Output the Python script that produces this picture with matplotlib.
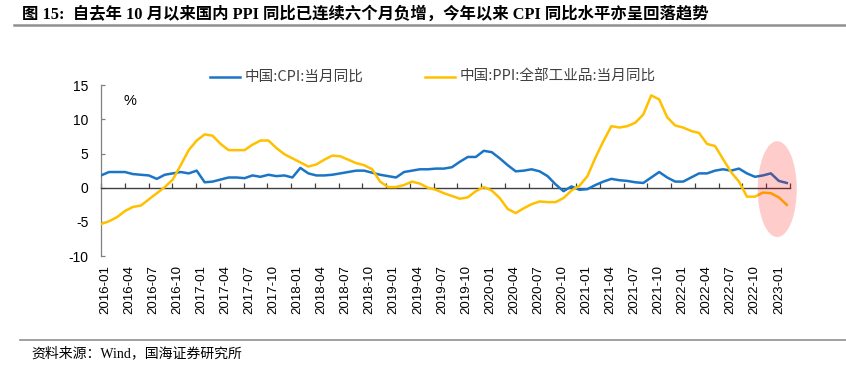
import numpy as np
import matplotlib
matplotlib.use("Agg")
import matplotlib.pyplot as plt
from matplotlib.lines import Line2D
from matplotlib.patches import Ellipse
import matplotlib.transforms as mtransforms

# monthly data, 2016-01 .. 2023-03 (YoY, %)
months = [f"{y}-{m:02d}" for y in range(2016, 2024) for m in range(1, 13)][:87]

cpi = [1.8, 2.3, 2.3, 2.3, 2.0, 1.9, 1.8, 1.3, 1.9, 2.1, 2.3, 2.1,
       2.5, 0.8, 0.9, 1.2, 1.5, 1.5, 1.4, 1.8, 1.6, 1.9, 1.7, 1.8,
       1.5, 2.9, 2.1, 1.8, 1.8, 1.9, 2.1, 2.3, 2.5, 2.5, 2.2, 1.9,
       1.7, 1.5, 2.3, 2.5, 2.7, 2.7, 2.8, 2.8, 3.0, 3.8, 4.5, 4.5,
       5.4, 5.2, 4.3, 3.3, 2.4, 2.5, 2.7, 2.4, 1.7, 0.5, -0.5, 0.2,
       -0.3, -0.2, 0.4, 0.9, 1.3, 1.1, 1.0, 0.8, 0.7, 1.5, 2.3, 1.5,
       0.9, 0.9, 1.5, 2.1, 2.1, 2.5, 2.7, 2.5, 2.8, 2.1, 1.6, 1.8,
       2.1, 1.0, 0.7]

ppi = [-5.3, -4.9, -4.3, -3.4, -2.8, -2.6, -1.7, -0.8, 0.1, 1.2, 3.3, 5.5,
       6.9, 7.8, 7.6, 6.4, 5.5, 5.5, 5.5, 6.3, 6.9, 6.9, 5.8, 4.9,
       4.3, 3.7, 3.1, 3.4, 4.1, 4.7, 4.6, 4.1, 3.6, 3.3, 2.7, 0.9,
       0.1, 0.1, 0.4, 0.9, 0.6, 0.0, -0.3, -0.8, -1.2, -1.6, -1.4, -0.5,
       0.1, -0.4, -1.5, -3.1, -3.7, -3.0, -2.4, -2.0, -2.1, -2.1, -1.5, -0.4,
       0.3, 1.7, 4.4, 6.8, 9.0, 8.8, 9.0, 9.5, 10.7, 13.5, 12.9, 10.3,
       9.1, 8.8, 8.3, 8.0, 6.4, 6.1, 4.2, 2.3, 0.9, -1.3, -1.3, -0.7,
       -0.8, -1.4, -2.5]

label_months = months[::3][:29]          # 2016-01 .. 2023-01
y_ticks = [-10, -5, 0, 5, 10, 15]

CPI_COLOR = "#1B75C6"
PPI_COLOR = "#FFC000"
CJK = ["Noto Sans CJK SC", "DejaVu Sans"]
SERIF_CJK = ["Liberation Serif", "Noto Sans CJK SC"]

W, H = 846, 371
fig = plt.figure(figsize=(W / 100, H / 100), dpi=100)
ax = fig.add_axes([101 / W, 1 - 256.2 / H, (790 - 101) / W, (256.2 - 85.1) / H])

x = np.arange(len(months))
ax.plot(x, cpi, color=CPI_COLOR, lw=1.8, solid_joinstyle="round", zorder=3)
ax.plot(x, ppi, color=PPI_COLOR, lw=1.8, solid_joinstyle="round", zorder=3)

ax.set_xlim(0, 86.4)
ax.set_ylim(-10, 15)

# spines
for s in ["top", "right"]:
    ax.spines[s].set_visible(False)
ax.spines["left"].set_color("#808080")
ax.spines["left"].set_linewidth(0.9)
ax.spines["bottom"].set_position(("data", 0))
ax.spines["bottom"].set_color("#404040")
ax.spines["bottom"].set_linewidth(1.0)

ax.set_yticks(y_ticks)
ax.set_yticklabels([str(v) for v in y_ticks], fontsize=10, family="Liberation Sans")
ax.tick_params(axis="y", direction="in", length=3, width=0.9, color="#808080", pad=9)

xt = list(np.arange(0, 85, 3) * 86.4 / 87.0) + [86.4]
ax.set_xticks(xt)
ax.set_xticklabels([])
ax.tick_params(axis="x", direction="in", length=3.5, width=0.9, color="#404040")

trans = mtransforms.blended_transform_factory(ax.transData, ax.transAxes)
for k, lab in enumerate(label_months):
    ax.text(0.5 + k * 3.018, -0.052, lab, transform=trans, rotation=90,
            ha="center", va="top", fontsize=9.5, family="Liberation Sans")

fig.text(130 / W, 1 - 101 / H, "%", fontsize=10.5, family="Liberation Sans",
         ha="center", va="center")

# highlight ellipse
ell = Ellipse((84.8, -0.2), 4.9, 14.0, facecolor="red", alpha=0.2,
              edgecolor="none", zorder=4, clip_on=False)
ax.add_patch(ell)

# legend (manual)
ly = 1 - 77 / H
fig.add_artist(Line2D([210 / W, 240 / W], [ly, ly], color=CPI_COLOR, lw=1.8))
fig.text(245 / W, ly, "中国:CPI:当月同比", family=CJK, fontsize=10.5,
         color="#404040", va="center", ha="left")
fig.add_artist(Line2D([425 / W, 455 / W], [ly, ly], color=PPI_COLOR, lw=1.8))
fig.text(460 / W, ly, "中国:PPI:全部工业品:当月同比", family=CJK, fontsize=10.5,
         color="#404040", va="center", ha="left")

# title and footer
fig.text(22 / W, 1 - 14 / H,
         "图 15:  自去年 10 月以来国内 PPI 同比已连续六个月负增，今年以来 CPI 同比水平亦呈回落趋势",
         family=SERIF_CJK, fontweight="bold", fontsize=11.8, va="center", ha="left")
fig.add_artist(Line2D([14 / W, 1.0], [1 - 25 / H, 1 - 25 / H], color="#909090", lw=1.8))
fig.add_artist(Line2D([20 / W, 1.0], [1 - 340 / H, 1 - 340 / H], color="#909090", lw=1.2))
fig.text(31 / W, 1 - 353 / H, "资料来源：Wind，国海证券研究所", family=SERIF_CJK,
         fontsize=10, va="center", ha="left")

fig.savefig("out.png", dpi=100)
